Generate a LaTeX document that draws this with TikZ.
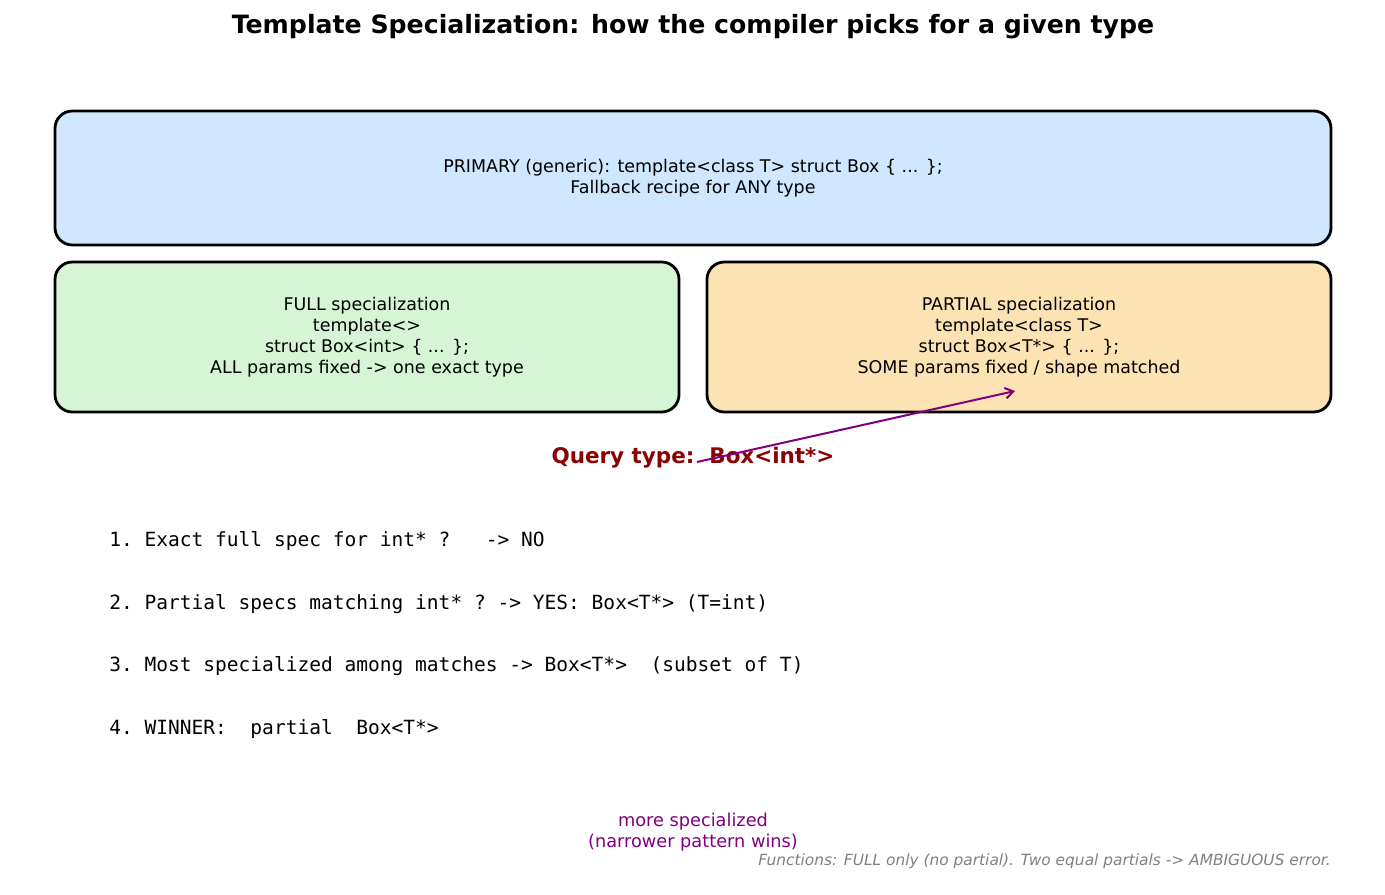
\documentclass[tikz,border=0pt]{standalone}
\usepackage{fontspec}
\setmainfont{DejaVu Sans}
\setmonofont{DejaVu Sans Mono}
\usetikzlibrary{arrows.meta}
\definecolor{primaryfill}{HTML}{CFE8FF}
\definecolor{fullfill}{HTML}{D5F5D5}
\definecolor{partialfill}{HTML}{FDE2B4}
\definecolor{querycol}{HTML}{8B0000}
\definecolor{notecol}{HTML}{808080}
\definecolor{pickcol}{HTML}{800080}

\begin{document}
\begin{tikzpicture}[x=0.75pt,y=-0.75pt,
    specbox/.style={draw,line width=2.1pt,rounded corners=13pt,align=center,
      font=\fontsize{13.1}{15.75}\selectfont},
    checkline/.style={anchor=base west,inner sep=0pt,font=\ttfamily\fontsize{14.66}{18}\selectfont}]
  \useasboundingbox (0,0) rectangle (1385,895);
  \draw
    (693,34) node[anchor=base,font=\bfseries\fontsize{18.9}{22}\selectfont] (title)
      {Template Specialization: how the compiler picks for a given type}
    (693,178) node[specbox,fill=primaryfill,minimum width=957pt,minimum height=100.5pt] (primary)
      {PRIMARY (generic): template<class T> struct Box \{ ... \};\\Fallback recipe for ANY type}
    (367,337) node[specbox,fill=fullfill,minimum width=468pt,minimum height=112.5pt] (full)
      {FULL specialization\\template<>\\struct Box<int> \{ ... \};\\ALL params fixed -> one exact type}
    (1019,337) node[specbox,fill=partialfill,minimum width=468pt,minimum height=112.5pt] (partial)
      {PARTIAL specialization\\template<class T>\\struct Box<T*> \{ ... \};\\SOME params fixed / shape matched}
    (693,463) node[anchor=base,text=querycol,font=\bfseries\fontsize{16.1}{19}\selectfont] (query)
      {Query type:\ \ Box<int*>};
  % the pick
  \coordinate (pickfrom) at (697,462);
  \coordinate (pickto) at (1015,391);
  \draw[pickcol,line width=1.5pt,-{Straight Barb[length=6pt,width=8pt]}] (pickfrom) -- (pickto);
  \node[checkline] (c1) at (109,546) {1. Exact full spec for int* ?~~~-> NO};
  \node[checkline] (c2) at (109,609) {2. Partial specs matching int* ? -> YES: Box<T*> (T=int)};
  \node[checkline] (c3) at (109,671) {3. Most specialized among matches -> Box<T*>~~(subset of T)};
  \node[checkline] (c4) at (109,734) {4. WINNER:~~partial~~Box<T*>};
  \node[align=center,text=pickcol,font=\fontsize{13.3}{15.75}\selectfont] (picklabel) at (693,832)
    {more specialized\\(narrower pattern wins)};
  \node[anchor=base east,inner sep=0pt,text=notecol,font=\itshape\fontsize{11.55}{13}\selectfont] (note) at (1331,865)
    {Functions: FULL only (no partial). Two equal partials -> AMBIGUOUS error.};
\end{tikzpicture}
\end{document}
